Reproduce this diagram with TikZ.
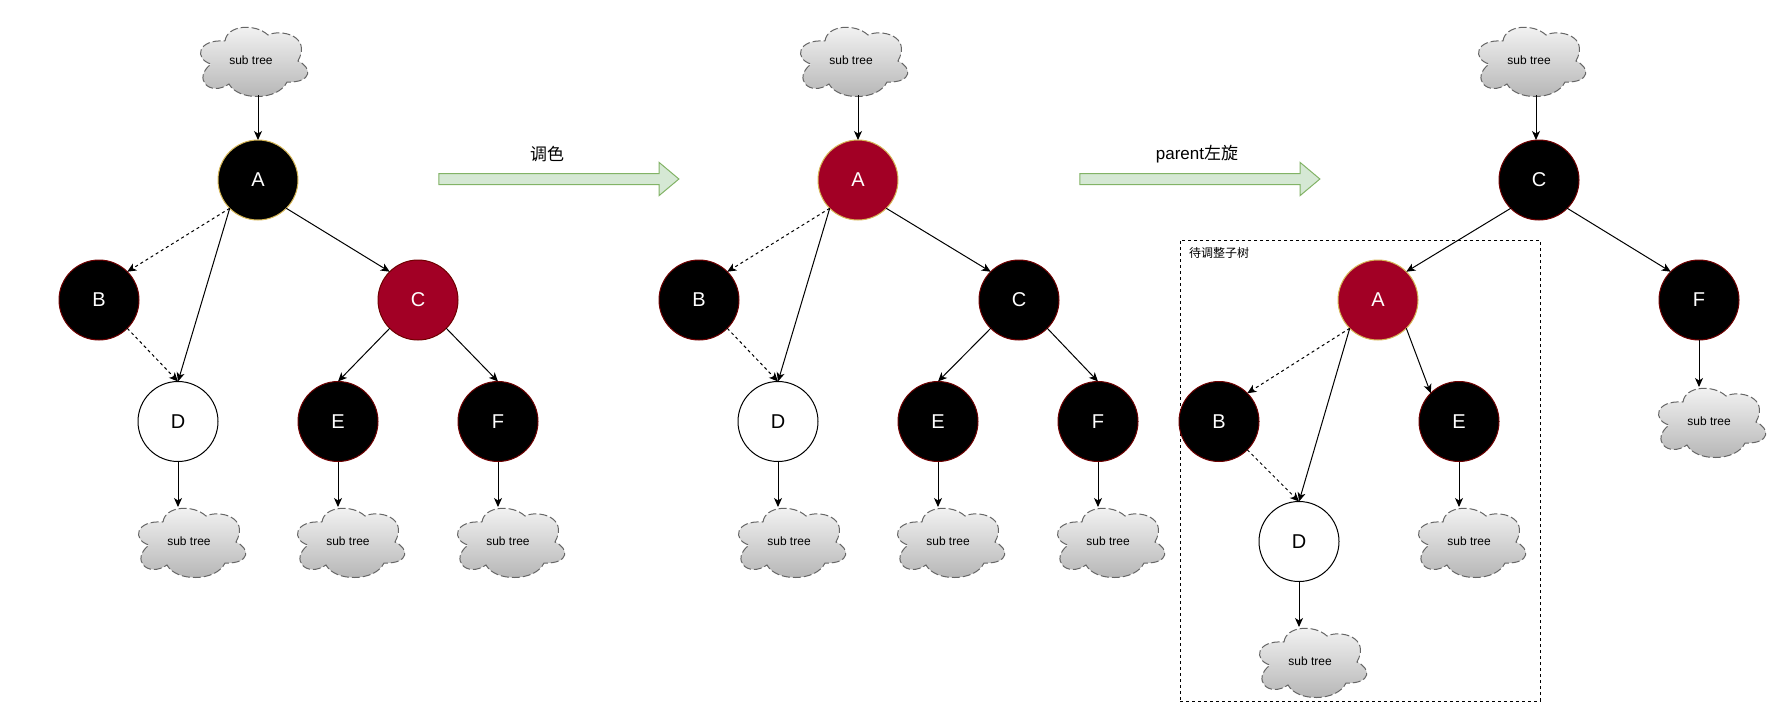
\documentclass[tikz,border=0pt]{standalone}
\usepackage{fontspec}
\setmainfont{Liberation Sans}
\newfontfamily\cjk{Noto Sans CJK SC}
\usetikzlibrary{arrows.meta,shapes.arrows}
\definecolor{redfill}{HTML}{A20025}
\definecolor{redline}{HTML}{6F0000}
\definecolor{goldline}{HTML}{D6B656}
\definecolor{greenfill}{HTML}{D5E8D4}
\definecolor{greenline}{HTML}{82B366}
\definecolor{cloudline}{HTML}{666666}
\definecolor{cloudtop}{HTML}{F5F5F5}
\definecolor{cloudbot}{HTML}{B3B3B3}
\tikzset{
    rbnode/.style={circle,minimum size=80pt,line width=1pt,font=\fontsize{20}{24}\selectfont},
    blacknode/.style={rbnode,draw=redline,fill=black,text=white},
    rednode/.style={rbnode,draw=goldline,fill=redfill,text=white},
    newnode/.style={rbnode,draw=black,fill=white,text=black},
    topblack/.style={rbnode,draw=goldline,fill=black,text=white},
    conn/.style={line width=1pt,-{Stealth[length=9pt,width=8pt,inset=2.5pt]}},
    dashconn/.style={conn,dash pattern=on 3pt off 3pt},
    cloudpath/.style={draw=cloudline,line width=1pt,dash pattern=on 8pt off 3pt,top color=cloudtop,bottom color=cloudbot},
    cloudtext/.style={minimum width=108pt,minimum height=69pt,font=\fontsize{12}{14}\selectfont},
    turnarrow/.style={single arrow,draw=greenline,fill=greenfill,line width=1pt,inner sep=5pt,minimum width=32pt,minimum height=240pt,
        single arrow head extend=11pt,single arrow head indent=0pt,single arrow tip angle=80},
    turntext/.style={font=\fontsize{17}{20}\selectfont},
}
% name, left, top
\newcommand{\subtree}[3]{
    \path [cloudpath,shift={(#2,#3)}] (25,-14) .. controls (27,2) and (55,4) .. (68,-8)
        .. controls (80,-2) and (112,-8) .. (98,-34)
        .. controls (112,-40) and (113,-56) .. (87,-55)
        .. controls (78,-74) and (38,-74) .. (29,-57)
        .. controls (10,-70) and (-8,-52) .. (11,-37)
        .. controls (-6,-32) and (-3,-12) .. (25,-14) -- cycle;
    \node [cloudtext] (#1) at ({#2+51},{#3-33.5}) {sub tree};
}
\begin{document}
\begin{tikzpicture}[x=1pt,y=1pt]
    \tikzstyle{every node}+=[inner sep=0pt,outer sep=0pt]
    \useasboundingbox (0,0) rectangle (1786,-724);
    % first tree
    \subtree{s1}{200}{-27}
    \subtree{sd1}{138}{-508}
    \subtree{se1}{297}{-508}
    \subtree{sf1}{457}{-508}
    \node [topblack] (a1) at (258,-180) {A};
    \node [blacknode] (b1) at (99,-300) {B};
    \node [rednode,draw=redline] (c1) at (418,-300) {C};
    \node [newnode] (d1) at (178,-421.5) {D};
    \node [blacknode] (e1) at (338,-421.5) {E};
    \node [blacknode] (f1) at (498,-421.5) {F};
    \draw [conn] (s1.south -| a1.north) -- (a1.north);
    \draw [dashconn] (a1.south west) -- (b1.north east);
    \draw [conn] (a1.south west) -- (d1.north);
    \draw [conn] (a1.south east) -- (c1.north west);
    \draw [dashconn] (b1.south east) -- (d1.north);
    \draw [conn] (c1.south west) -- (e1.north);
    \draw [conn] (c1.south east) -- (f1.north);
    \draw [conn] (d1.south) -- (d1.south |- sd1.north);
    \draw [conn] (e1.south) -- (e1.south |- se1.north);
    \draw [conn] (f1.south) -- (f1.south |- sf1.north);
    % recolour
    \node [turnarrow] (turn1) at (555.6,-179) {};
    \node [turntext] (label1) at (547,-154) {\cjk 调色};
    % second tree
    \subtree{s2}{800}{-27}
    \subtree{sd2}{738}{-508}
    \subtree{se2}{897}{-508}
    \subtree{sf2}{1057}{-508}
    \node [rednode] (a2) at (858,-180) {A};
    \node [blacknode] (b2) at (699,-300) {B};
    \node [blacknode] (c2) at (1019,-300) {C};
    \node [newnode] (d2) at (778,-421.5) {D};
    \node [blacknode] (e2) at (938,-421.5) {E};
    \node [blacknode] (f2) at (1098,-421.5) {F};
    \draw [conn] (s2.south -| a2.north) -- (a2.north);
    \draw [dashconn] (a2.south west) -- (b2.north east);
    \draw [conn] (a2.south west) -- (d2.north);
    \draw [conn] (a2.south east) -- (c2.north west);
    \draw [dashconn] (b2.south east) -- (d2.north);
    \draw [conn] (c2.south west) -- (e2.north);
    \draw [conn] (c2.south east) -- (f2.north);
    \draw [conn] (d2.south) -- (d2.south |- sd2.north);
    \draw [conn] (e2.south) -- (e2.south |- se2.north);
    \draw [conn] (f2.south) -- (f2.south |- sf2.north);
    % rotate
    \node [turnarrow] (turn2) at (1196.6,-179) {};
    \node [turntext] (label2) at (1197,-154) {parent{\cjk 左旋}};
    % third tree
    \node [draw=black,line width=1pt,dash pattern=on 3pt off 3pt,minimum width=360pt,minimum height=461pt] (box) at (1360,-470.5) {};
    \node [font=\fontsize{12}{14}\selectfont] (boxlabel) at (1219,-253) {\cjk 待调整子树};
    \subtree{s3}{1478}{-27}
    \subtree{sd3}{1259}{-628}
    \subtree{se3}{1418}{-508}
    \subtree{sf3}{1658}{-388}
    \node [blacknode] (c3) at (1539,-180) {C};
    \node [rednode] (a3) at (1378,-300) {A};
    \node [blacknode] (f3) at (1699,-300) {F};
    \node [blacknode] (b3) at (1219,-421.5) {B};
    \node [blacknode] (e3) at (1459,-421.5) {E};
    \node [newnode] (d3) at (1299,-541.5) {D};
    \draw [conn] ([xshift=-3pt]s3.south -| c3.north) -- ([xshift=-3pt]c3.north);
    \draw [conn] (c3.south west) -- (a3.north east);
    \draw [conn] (c3.south east) -- (f3.north west);
    \draw [dashconn] (a3.south west) -- (b3.north east);
    \draw [conn] (a3.south west) -- (d3.north);
    \draw [conn] (a3.south east) -- (e3.north west);
    \draw [dashconn] (b3.south east) -- (d3.north);
    \draw [conn] (d3.south) -- (d3.south |- sd3.north);
    \draw [conn] (e3.south) -- (e3.south |- se3.north);
    \draw [conn] (f3.south) -- (f3.south |- sf3.north);
\end{tikzpicture}
\end{document}
